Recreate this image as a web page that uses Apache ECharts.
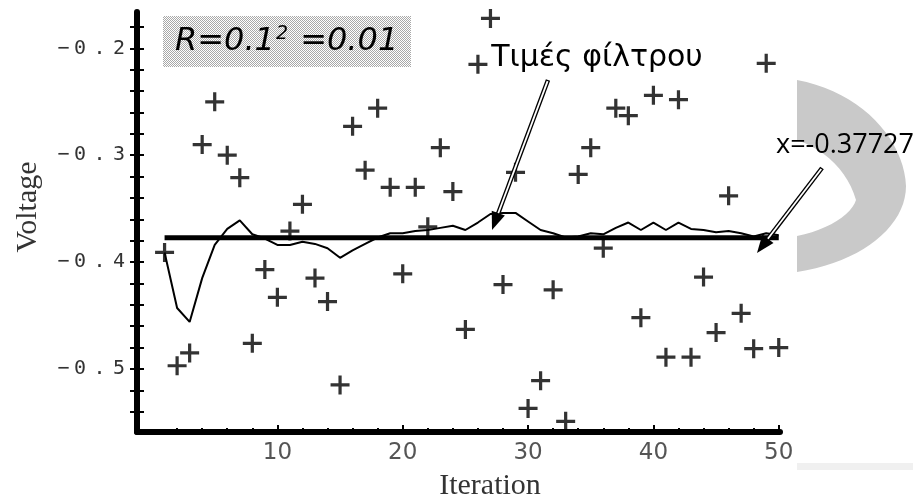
<!DOCTYPE html>
<html>
<head>
<meta charset="utf-8">
<script src="https://cdn.jsdelivr.net/npm/echarts@6.0.0/dist/echarts.min.js"></script>
<style>
html,body{margin:0;padding:0;background:#fff;}
#chart{width:923px;height:504px;}
</style>
</head>
<body>
<div id="chart"></div>
<script>
// ---- data ----
const iterations = [1,2,3,4,5,6,7,8,9,10,11,12,13,14,15,16,17,18,19,20,21,22,23,24,25,26,27,28,29,30,31,32,33,34,35,36,37,38,39,40,41,42,43,44,45,46,47,48,49,50];
const measurements = [-0.391,-0.497,-0.485,-0.290,-0.250,-0.300,-0.321,-0.476,-0.407,-0.433,
  -0.371,-0.346,-0.415,-0.437,-0.515,-0.273,-0.314,-0.256,-0.330,-0.411,
  -0.330,-0.367,-0.293,-0.334,-0.463,-0.215,-0.172,-0.421,-0.316,-0.537,
  -0.511,-0.426,-0.549,-0.318,-0.293,-0.387,-0.256,-0.263,-0.452,-0.244,
  -0.489,-0.248,-0.489,-0.414,-0.466,-0.338,-0.448,-0.481,-0.214,-0.480];
const filterValues = [-0.391,-0.443,-0.456,-0.415,-0.384,-0.369,-0.361,-0.374,-0.378,-0.384,
  -0.384,-0.381,-0.383,-0.387,-0.396,-0.389,-0.383,-0.377,-0.373,-0.373,
  -0.371,-0.370,-0.368,-0.366,-0.370,-0.363,-0.355,-0.354,-0.354,-0.362,
  -0.370,-0.373,-0.377,-0.376,-0.373,-0.374,-0.368,-0.363,-0.370,-0.363,
  -0.370,-0.363,-0.369,-0.370,-0.372,-0.371,-0.373,-0.376,-0.373,-0.375];
const trueEstimate = -0.37727;
const estimateRange = [1, 50];

const xMajorTicks = [10,20,30,40,50];
const xMinorTicks = [2,4,6,8,12,14,16,18,22,24,26,28,32,34,36,38,42,44,46,48];
const yLabelValues = [-0.5,-0.4,-0.3,-0.2];
const yLabelTexts = ['\u22120.5','\u22120.4','\u22120.3','\u22120.2'];
const yTickValues = [-0.54,-0.52,-0.5,-0.48,-0.46,-0.44,-0.42,-0.4,-0.38,-0.36,-0.34,-0.32,-0.3,-0.28,-0.26,-0.24,-0.22,-0.2,-0.18];

const noteText = 'R=0.1';
const noteSup = '2';
const noteTail = ' =0.01';
const filterLabel = 'Τιμές φίλτρου';
const estimateLabel = 'x=-0.37727';
const xTitle = 'Iteration';
const yTitle = 'Voltage';

// ---- build ----
const chart = echarts.init(document.getElementById('chart'), null, {renderer:'canvas'});

const X_MIN = -1.2, X_MAX = 50.1, Y_MIN = -0.559, Y_MAX = -0.166;

const plusPath = 'path://M-1.7,-10 L1.7,-10 L1.7,-1.7 L10,-1.7 L10,1.7 L1.7,1.7 L1.7,10 L-1.7,10 L-1.7,1.7 L-10,1.7 L-10,-1.7 L-1.7,-1.7 Z';

function yLabelFmt(val){
  const idx = yLabelValues.findIndex(t => Math.abs(t - val) < 1e-9);
  if (idx < 0) return '';
  return yLabelTexts[idx].split('').map(c => {
    const key = c === '.' ? 'p' : (c === '\u2212' ? 'm' : 'd');
    return '{' + key + '|' + c + '}';
  }).join('');
}
const yLabelBase = {align:'center', fontFamily:'DejaVu Sans Mono', fontSize:20, color:'#333'};

const pc = document.createElement('canvas');
pc.width = 2; pc.height = 2;
const g = pc.getContext('2d');
g.fillStyle = '#ffffff'; g.fillRect(0,0,2,2);
g.fillStyle = '#a8a8a8'; g.fillRect(0,0,1,1); g.fillRect(1,1,1,1);

function arrow(x1,y1,x2,y2){
  const dx = x2-x1, dy = y2-y1, L = Math.hypot(dx,dy);
  const ux = dx/L, uy = dy/L, hl = 18, hw = 7;
  const bx = x2-ux*hl, by = y2-uy*hl, px = -uy, py = ux;
  return [
    {type:'line', z:20, shape:{x1:x1,y1:y1,x2:bx+ux*2,y2:by+uy*2}, style:{stroke:'#000', lineWidth:4.5}},
    {type:'line', z:21, shape:{x1:x1+ux*1.2,y1:y1+uy*1.2,x2:bx+ux*2,y2:by+uy*2}, style:{stroke:'#fff', lineWidth:1.8}},
    {type:'polygon', z:22, shape:{points:[[x2,y2],[bx+px*hw,by+py*hw],[bx-px*hw,by-py*hw]]}, style:{fill:'#000'}}
  ];
}

// sample cubic bezier segments into polygon points (decoration outline)
function bez(p0,p1,p2,p3,n){
  const out = [];
  for (let k = 0; k <= n; k++){
    const t = k/n, a = (1-t)*(1-t)*(1-t), b = 3*(1-t)*(1-t)*t, c = 3*(1-t)*t*t, d = t*t*t;
    out.push([a*p0[0]+b*p1[0]+c*p2[0]+d*p3[0], a*p0[1]+b*p1[1]+c*p2[1]+d*p3[1]]);
  }
  return out;
}
const crescent = [].concat(
  bez([797,80],[862,92],[904,140],[906,186],20),
  bez([906,186],[906,226],[862,262],[797,272],20),
  [[797,236]],
  bez([797,236],[828,230],[852,214],[856,200],12),
  bez([856,200],[848,172],[826,150],[797,140],12)
);

const graphics = [
  {type:'polygon', z:1, shape:{points:crescent}, style:{fill:'#c9c9c9'}},
  {type:'rect', z:1, shape:{x:797,y:463,width:116,height:7}, style:{fill:'#f0f0f0'}},
  {type:'rect', z:10, shape:{x:163,y:16,width:248,height:51}, style:{fill:{image:pc, repeat:'repeat'}}},
  {type:'text', z:11, x:175, y:42, style:{
    text:'{i|' + noteText + '}{s|' + noteSup + '}{i|' + noteTail + '}',
    rich:{
      i:{fontFamily:'DejaVu Sans', fontStyle:'italic', fontSize:32, fill:'#000', color:'#000'},
      s:{fontFamily:'DejaVu Sans', fontStyle:'italic', fontSize:19, fill:'#000', color:'#000', padding:[0,2,16,1]}
    },
    align:'left', verticalAlign:'middle', textAlign:'left', textVerticalAlign:'middle'}},
  {type:'text', z:11, x:597, y:58, style:{text:filterLabel, font:"30px 'DejaVu Sans'", fill:'#000',
    align:'center', verticalAlign:'middle', textAlign:'center', textVerticalAlign:'middle'}},
  {type:'text', z:11, x:776, y:145, style:{text:estimateLabel, font:"27px 'Open Sans'", fill:'#000',
    align:'left', verticalAlign:'middle', textAlign:'left', textVerticalAlign:'middle'}},
  {type:'text', z:11, x:28, y:207, rotation:Math.PI/2, style:{text:yTitle, font:"30px 'Liberation Serif'", fill:'#333',
    align:'center', verticalAlign:'middle', textAlign:'center', textVerticalAlign:'middle'}},
  {type:'text', z:11, x:490, y:486, style:{text:xTitle, font:"30px 'Liberation Serif'", fill:'#333',
    align:'center', verticalAlign:'middle', textAlign:'center', textVerticalAlign:'middle'}}
].concat(arrow(548,80,492,230)).concat(arrow(822,168,757,253));

const option = {
  animation:false,
  backgroundColor:'#fff',
  grid:{left:137, right:143, top:12, bottom:72, containLabel:false},
  xAxis:[
    {type:'value', min:X_MIN, max:X_MAX, position:'bottom',
     axisLine:{show:true, onZero:false, lineStyle:{color:'#000', width:6}},
     axisTick:{show:true, inside:true, length:7, customValues:xMajorTicks, lineStyle:{color:'#000', width:2}},
     axisLabel:{show:true, customValues:xMajorTicks, margin:10, fontFamily:'DejaVu Sans', fontSize:23, color:'#555'},
     splitLine:{show:false}},
    {type:'value', min:X_MIN, max:X_MAX, position:'bottom',
     axisLine:{show:false, onZero:false},
     axisTick:{show:true, inside:true, length:4, customValues:xMinorTicks, lineStyle:{color:'#000', width:2}},
     axisLabel:{show:false}, splitLine:{show:false}}
  ],
  yAxis:[
    {type:'value', min:Y_MIN, max:Y_MAX, position:'left',
     axisLine:{show:true, onZero:false, lineStyle:{color:'#000', width:6}},
     axisTick:{show:true, inside:false, length:7, customValues:yTickValues, lineStyle:{color:'#000', width:2}},
     axisLabel:{show:true, customValues:yLabelValues, margin:9, formatter:yLabelFmt,
       rich:{
         m:Object.assign({width:15}, yLabelBase),
         d:Object.assign({width:18}, yLabelBase),
         p:Object.assign({width:21}, yLabelBase)
       }},
     splitLine:{show:false}},
    {type:'value', min:Y_MIN, max:Y_MAX, position:'left',
     axisLine:{show:false, onZero:false},
     axisTick:{show:true, inside:true, length:7, customValues:yTickValues, lineStyle:{color:'#000', width:2}},
     axisLabel:{show:false}, splitLine:{show:false}}
  ],
  series:[
    {type:'line', name:'estimate', xAxisIndex:0, yAxisIndex:0, symbol:'none', z:3,
     data: estimateRange.map(x => [x, trueEstimate]),
     lineStyle:{color:'#000', width:5}},
    {type:'line', name:'filter', xAxisIndex:0, yAxisIndex:0, symbol:'none', z:4,
     data: iterations.map((x,i) => [x, filterValues[i]]),
     lineStyle:{color:'#000', width:2}},
    {type:'scatter', name:'measurements', xAxisIndex:0, yAxisIndex:0, z:5, clip:false,
     symbol:plusPath, symbolSize:19,
     data: iterations.map((x,i) => [x, measurements[i]]),
     itemStyle:{color:'#000'}}
  ],
  graphic: graphics
};
chart.setOption(option);
</script>
</body>
</html>
